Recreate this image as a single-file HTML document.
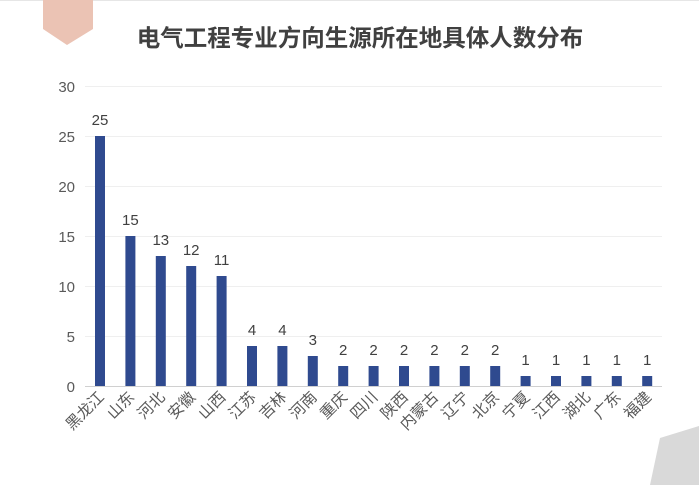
<!DOCTYPE html>
<html><head><meta charset="utf-8"><style>
body{margin:0;width:699px;height:485px;overflow:hidden;background:#fff;}
svg text{font-family:"Liberation Sans","Noto Sans CJK SC",sans-serif;}
</style></head><body>
<svg width="699" height="485" viewBox="0 0 699 485">
<line x1="0" y1="0.5" x2="699" y2="0.5" stroke="#e6e6e6"/>
<polygon points="43,0 93,0 93,29 67,45 43,29" fill="#ebc3b4"/>
<polygon points="699,426 660,438 650,485 699,485" fill="#d9d9d9"/>
<text x="360" y="46" text-anchor="middle" font-size="23.5" font-weight="bold" fill="#404040">电气工程专业方向生源所在地具体人数分布</text>
<g stroke="#efefef" stroke-width="1">
<line x1="85" y1="86.5" x2="662" y2="86.5"/><line x1="85" y1="136.5" x2="662" y2="136.5"/>
<line x1="85" y1="186.5" x2="662" y2="186.5"/><line x1="85" y1="236.5" x2="662" y2="236.5"/>
<line x1="85" y1="286.5" x2="662" y2="286.5"/><line x1="85" y1="336.5" x2="662" y2="336.5"/>
</g>
<line x1="85" y1="386.5" x2="662" y2="386.5" stroke="#d0d0d0"/>
<g font-size="15" fill="#595959" text-anchor="end">
<text x="75" y="92">30</text><text x="75" y="142">25</text><text x="75" y="192">20</text>
<text x="75" y="242">15</text><text x="75" y="292">10</text><text x="75" y="342">5</text><text x="75" y="392">0</text>
</g>
<g id="bars"></g>
</svg>
<script>
var d=[["黑龙江",25],["山东",15],["河北",13],["安徽",12],["山西",11],["江苏",4],["吉林",4],["河南",3],["重庆",2],["四川",2],["陕西",2],["内蒙古",2],["辽宁",2],["北京",2],["宁夏",1],["江西",1],["湖北",1],["广东",1],["福建",1]];
var s="";
d.forEach(function(e,i){var cx=100+i*30.4,h=e[1]*10;
s+='<rect x="'+(cx-5)+'" y="'+(386-h)+'" width="10" height="'+h+'" fill="#2f4a8f"/>';
s+='<text x="'+cx+'" y="'+(375-h)+'" text-anchor="middle" font-size="15" fill="#404040">'+e[1]+'</text>';
s+='<text transform="translate('+(cx+5)+',398) rotate(-45)" text-anchor="end" font-size="15.5" fill="#595959">'+e[0]+'</text>';});
document.getElementById("bars").innerHTML=s;
</script>
</body></html>
